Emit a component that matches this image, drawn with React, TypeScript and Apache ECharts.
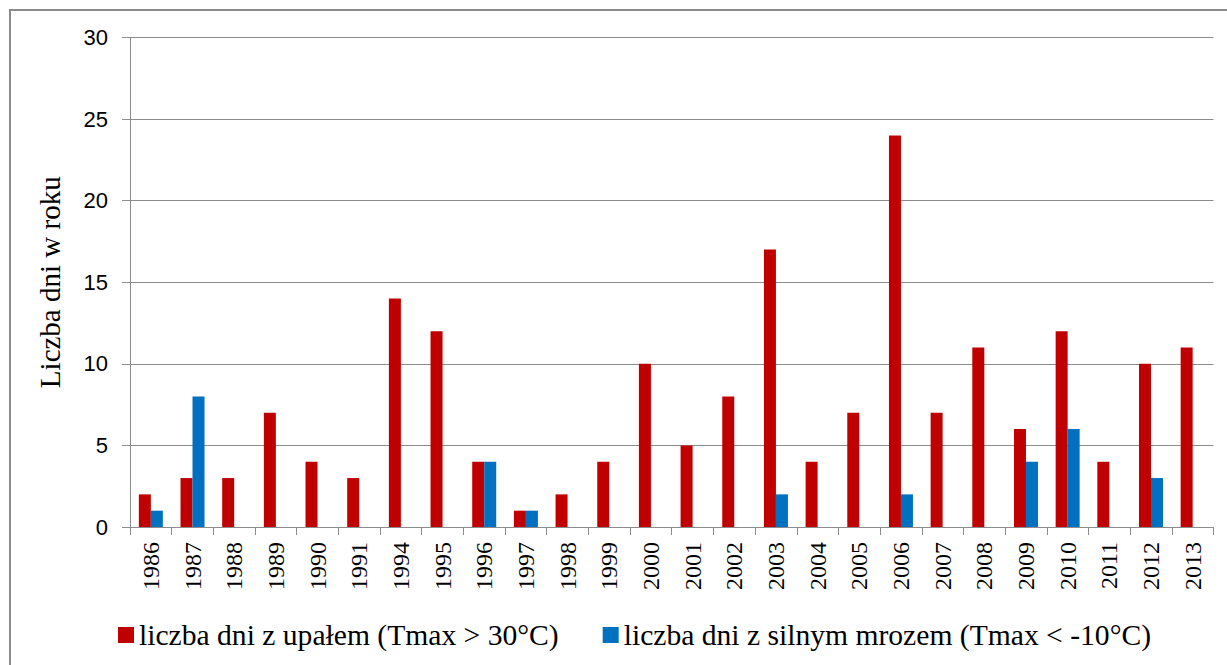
import React, { useEffect, useRef } from "react";
import * as echarts from "echarts";

const years = [
  "1986", "1987", "1988", "1989", "1990", "1991", "1994", "1995", "1996", "1997",
  "1998", "1999", "2000", "2001", "2002", "2003", "2004", "2005", "2006", "2007",
  "2008", "2009", "2010", "2011", "2012", "2013",
];
const heatDays = [2, 3, 3, 7, 4, 3, 14, 12, 4, 1, 2, 4, 10, 5, 8, 17, 4, 7, 24, 7, 11, 6, 12, 4, 10, 11];
const frostDays = [1, 8, 0, 0, 0, 0, 0, 0, 4, 1, 0, 0, 0, 0, 0, 2, 0, 0, 2, 0, 0, 4, 6, 0, 3, 0];
const heatName = "liczba dni z upałem (Tmax > 30°C)";
const frostName = "liczba dni z silnym mrozem (Tmax < -10°C)";
const yAxisTitle = "Liczba dni w roku";

const SERIF = "'Liberation Serif', 'Times New Roman', serif";
const SANS = "'Liberation Sans', Arial, sans-serif";
const GRAY = "#8c8c8c";

export default function App() {
  const ref = useRef<HTMLDivElement>(null);
  useEffect(() => {
    if (!ref.current) return;
    const chart = echarts.init(ref.current, null, { renderer: "svg" });
    chart.setOption({
      animation: false,
      backgroundColor: "#ffffff",
      graphic: [
        {
          type: "rect",
          shape: { x: 10, y: 10, width: 1240, height: 700 },
          style: { fill: "none", stroke: GRAY, lineWidth: 2 },
          silent: true,
        },
      ],
      grid: { left: 130, right: 13.5, top: 37.5, bottom: 138, containLabel: false },
      legend: {
        left: 113,
        top: 615,
        icon: "rect",
        itemWidth: 16,
        itemHeight: 16,
        itemGap: 44,
        textStyle: { fontFamily: SERIF, fontSize: 29.6, color: "#000" },
        data: [heatName, frostName],
      },
      xAxis: {
        type: "category",
        data: years,
        axisLine: { show: true, lineStyle: { color: GRAY, width: 1 } },
        axisTick: { show: true, length: 8, lineStyle: { color: GRAY } },
        axisLabel: {
          rotate: 90,
          margin: 15,
          fontFamily: SERIF,
          fontSize: 24,
          color: "#000",
          interval: 0,
        },
      },
      yAxis: {
        type: "value",
        min: 0,
        max: 30,
        interval: 5,
        name: yAxisTitle,
        nameLocation: "middle",
        nameGap: 66,
        nameRotate: 90,
        nameTextStyle: { fontFamily: SERIF, fontSize: 29, color: "#000" },
        axisLine: { show: true, lineStyle: { color: GRAY, width: 1 } },
        axisTick: { show: true, length: 8, lineStyle: { color: GRAY } },
        splitLine: { show: true, lineStyle: { color: GRAY, width: 1 } },
        axisLabel: { margin: 22, fontFamily: SANS, fontSize: 22, color: "#000" },
      },
      series: [
        {
          name: heatName,
          type: "bar",
          data: heatDays,
          barWidth: 12,
          barGap: "0%",
          itemStyle: { color: "#C00000" },
        },
        {
          name: frostName,
          type: "bar",
          data: frostDays,
          barWidth: 12,
          barGap: "0%",
          itemStyle: { color: "#0070C0" },
        },
      ],
    });
    return () => chart.dispose();
  }, []);
  return (
    <div
      ref={ref}
      style={{ position: "fixed", left: 0, top: 0, width: 1227, height: 665, background: "#fff" }}
    />
  );
}
